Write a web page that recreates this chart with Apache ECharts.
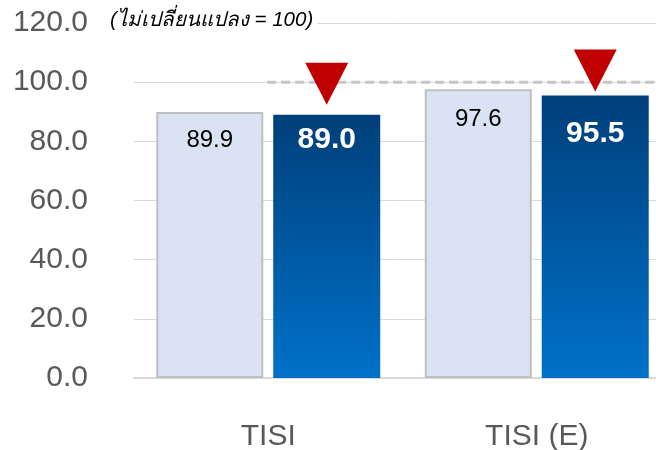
<!DOCTYPE html>
<html>
<head>
<meta charset="utf-8">
<script src="https://cdn.jsdelivr.net/npm/echarts@6/dist/echarts.min.js"></script>
<style>
  html, body { margin: 0; padding: 0; background: #fff; }
  #chart { width: 656px; height: 450px; }
</style>
</head>
<body>
<div id="chart"></div>
<script>
const categories = ['TISI', 'TISI (E)'];
const previousValues = [89.9, 97.6];
const currentValues = [89.0, 95.5];
const baseline = 100;
const yTicks = { min: 0, max: 120, step: 20 };
const noteText = '(ไม่เปลี่ยนแปลง = 100)';

// label / arrow placement tweaks per category (style only)
const arrowOffsets = [-31, -25];
const prevLabelGap = [16, 18];
const currLabelGap = [10, 23];

const chart = echarts.init(document.getElementById('chart'));

const font = 'Liberation Sans, Arial, sans-serif';

const option = {
  animation: false,
  title: {
    text: noteText,
    left: 106,
    top: 8,
    padding: [2, 4],
    backgroundColor: '#fff',
    textStyle: {
      fontFamily: font,
      fontSize: 20.5,
      fontStyle: 'italic',
      fontWeight: 'normal',
      color: '#000'
    }
  },
  // plot runs past the right edge, like the original slide crop
  grid: { left: 134, width: 537, top: 23, bottom: 72, outerBoundsMode: 'none', containLabel: false },
  xAxis: [
    {
      type: 'category',
      data: categories,
      axisTick: { show: false },
      axisLine: { lineStyle: { color: '#d9d9d9', width: 2 } },
      axisLabel: { margin: 44, fontSize: 30, color: '#595959', fontFamily: font }
    },
    { type: 'value', min: 0, max: 1, show: false }
  ],
  yAxis: {
    type: 'value',
    min: yTicks.min,
    max: yTicks.max,
    interval: yTicks.step,
    axisLine: { show: false },
    axisTick: { show: false },
    splitLine: { lineStyle: { color: '#d9d9d9', width: 1 } },
    axisLabel: {
      margin: 46,
      fontSize: 30,
      color: '#595959',
      fontFamily: font,
      formatter: v => v.toFixed(1)
    }
  },
  series: [
    {
      name: 'previous',
      type: 'bar',
      data: previousValues.map((v, i) => ({ value: v, label: { distance: prevLabelGap[i] } })),
      barWidth: 107,
      barGap: '9.3%',
      itemStyle: { color: '#dae3f3', borderColor: '#bfbfbf', borderWidth: 2 },
      label: {
        show: true,
        position: 'insideTop',
        fontSize: 24,
        color: '#000',
        fontFamily: font,
        formatter: p => p.value.toFixed(1)
      }
    },
    {
      name: 'current',
      type: 'bar',
      data: currentValues.map((v, i) => ({ value: v, label: { distance: currLabelGap[i] } })),
      barWidth: 107,
      itemStyle: {
        color: new echarts.graphic.LinearGradient(0, 0, 0, 1, [
          { offset: 0, color: '#003f7a' },
          { offset: 1, color: '#0071c9' }
        ])
      },
      label: {
        show: true,
        position: 'insideTop',
        fontSize: 30,
        fontWeight: 'bold',
        color: '#fff',
        fontFamily: font,
        formatter: p => p.value.toFixed(1)
      },
      markPoint: {
        symbol: 'triangle',
        symbolRotate: 180,
        symbolSize: [43, 42],
        itemStyle: { color: '#c00000' },
        label: { show: false },
        z: 10,
        data: categories.map((c, i) => ({
          coord: [c, currentValues[i]],
          symbolOffset: [0, arrowOffsets[i]]
        }))
      }
    },
    {
      name: 'baseline',
      type: 'line',
      xAxisIndex: 1,
      data: [[0.248, baseline], [1, baseline]],
      symbol: 'none',
      silent: true,
      z: 1,
      lineStyle: { color: '#c6c6c6', width: 3, type: [9, 5] }
    }
  ]
};

chart.setOption(option);
</script>
</body>
</html>
